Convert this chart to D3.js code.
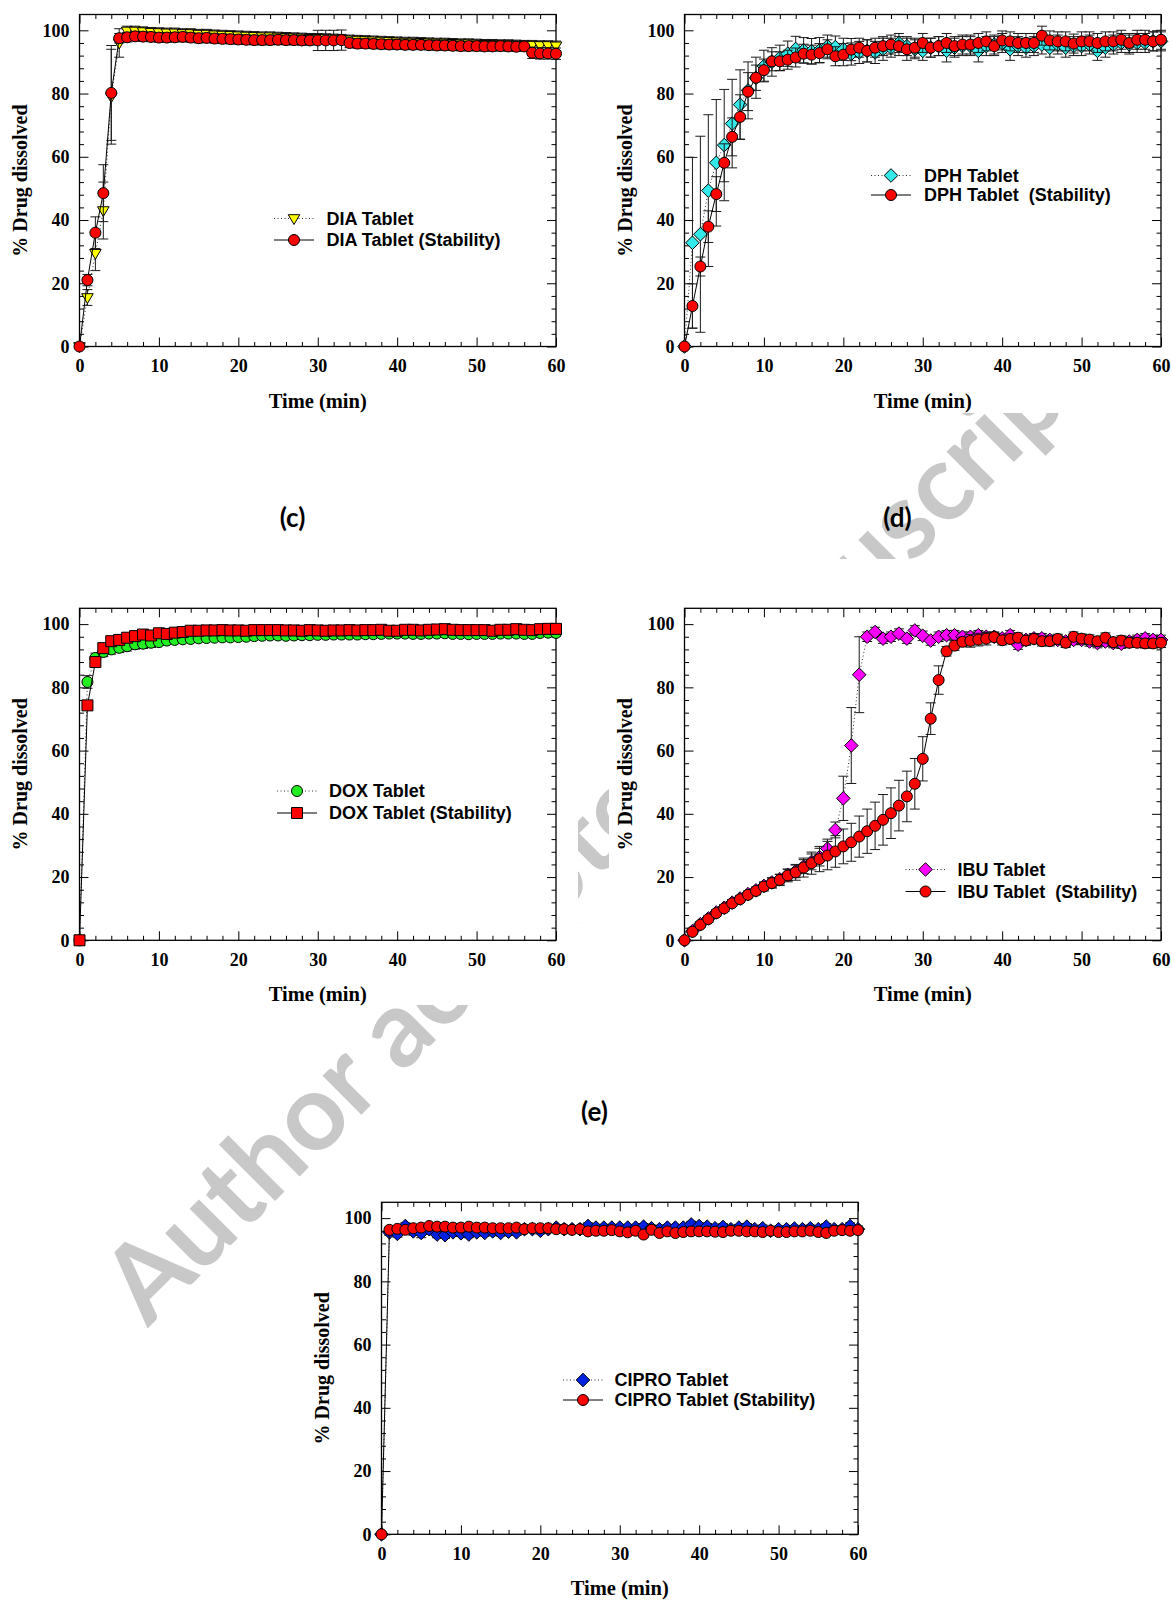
<!DOCTYPE html>
<html>
<head>
<meta charset="utf-8">
<script src="https://cdn.jsdelivr.net/npm/d3@7"></script>
<style>
  body { margin: 0; background: #fff; }
  svg text { white-space: pre; }
</style>
</head>
<body>
<div class="container"></div>
<script>
// time points (min)
const TIME = [0, 1, 2, 3, 4, 5, 6, 7, 8, 9,
  10, 11, 12, 13, 14, 15, 16, 17, 18, 19,
  20, 21, 22, 23, 24, 25, 26, 27, 28, 29,
  30, 31, 32, 33, 34, 35, 36, 37, 38, 39,
  40, 41, 42, 43, 44, 45, 46, 47, 48, 49,
  50, 51, 52, 53, 54, 55, 56, 57, 58, 59,
  60];

const X_TICKS = [0, 10, 20, 30, 40, 50, 60];
const Y_TICKS = [0, 20, 40, 60, 80, 100];

// (c) DIA
const DIA_TAB = [0, 15.5, 29.5, 43, 79, 96, 99.8, 99.8, 99.6, 99.4,
  99.3, 99.2, 99.2, 99.0, 99.0, 98.8, 98.8, 98.6, 98.5, 98.4,
  98.3, 98.2, 98.1, 98.0, 98.0, 97.9, 97.8, 97.7, 97.6, 97.5,
  97.5, 97.4, 97.3, 97.2, 97.0, 96.9, 96.8, 96.7, 96.6, 96.5,
  96.4, 96.3, 96.3, 96.2, 96.1, 96.0, 96.0, 95.9, 95.8, 95.8,
  95.7, 95.6, 95.6, 95.5, 95.5, 95.4, 95.3, 95.3, 95.2, 95.2,
  95.1];
const DIA_TAB_ERR = [0, 2.5, 5.5, 9, 15, 4.5, 1.5, 1.5, 1.5, 1.5,
  1.5, 1.5, 1.5, 1.5, 1.5, 1.5, 1.5, 1.5, 1.5, 1.5,
  1.5, 1.5, 1.5, 1.5, 1.5, 1.5, 1.5, 1.5, 1.5, 1.5,
  1.5, 1.5, 1.5, 1.5, 1.5, 1.5, 1.5, 1.5, 1.5, 1.5,
  1.5, 1.5, 1.5, 1.5, 1.5, 1.5, 1.5, 1.5, 1.5, 1.5,
  1.5, 1.5, 1.5, 1.5, 1.5, 1.5, 1.5, 1.5, 1.5, 1.5,
  1.5];
const DIA_STAB = [0, 21, 36, 48.5, 80.2, 97.5, 97.8, 98.1, 98.0, 97.9,
  97.7, 97.7, 97.8, 97.9, 97.7, 97.5, 97.6, 97.4, 97.3, 97.2,
  97.1, 97.0, 96.9, 96.9, 96.9, 97.0, 96.9, 96.9, 96.8, 96.8,
  96.8, 96.8, 96.8, 96.9, 96.0, 95.8, 95.8, 95.7, 95.6, 95.5,
  95.5, 95.4, 95.4, 95.4, 95.3, 95.2, 95.2, 95.1, 95.0, 95.0,
  95.0, 94.9, 94.9, 95.0, 94.9, 94.8, 94.9, 92.9, 92.7, 92.7,
  92.6];
const DIA_STAB_ERR = [0, 1.8, 5, 9, 15, 1.5, 1.5, 1.5, 1.5, 1.5,
  1.5, 1.5, 1.5, 1.5, 1.5, 1.5, 1.5, 1.5, 1.5, 1.5,
  1.5, 1.5, 1.5, 1.5, 1.5, 1.5, 1.5, 1.5, 1.5, 1.5,
  3.2, 3.2, 3.2, 3.2, 1.5, 1.5, 1.5, 1.5, 1.5, 1.5,
  1.5, 1.5, 1.5, 1.5, 1.5, 1.5, 1.5, 1.5, 1.5, 1.5,
  1.5, 1.5, 1.5, 1.5, 1.5, 1.5, 1.5, 1.8, 1.8, 1.8,
  1.8];

// (d) DPH
const DPH_TAB = [0, 32.8, 35.5, 49.3, 58.1, 63.7, 70.5, 76.5, 81.0, 85.0,
  88.7, 90.0, 91.3, 92.6, 94.1, 93.7, 93.4, 93.7, 95.0, 94.7,
  94.0, 92.5, 93.0, 93.5, 93.0, 94.0, 94.5, 96.0, 95.0, 94.0,
  93.5, 94.5, 95.0, 93.5, 94.5, 95.0, 95.0, 93.5, 95.0, 95.5,
  96.0, 94.0, 95.0, 94.5, 95.0, 95.5, 94.5, 95.5, 94.5, 95.0,
  95.0, 95.5, 93.5, 94.5, 95.5, 96.0, 95.5, 96.0, 96.0, 96.5,
  96.5];
const DPH_TAB_ERR = [0, 27, 31, 24, 20, 17.6, 14, 11, 9, 6.5,
  5, 4.5, 4, 4, 4, 4, 4, 4, 3.5, 3.5,
  3.5, 3.5, 3.5, 3.5, 3.5, 3.5, 3, 3, 3, 3,
  3, 3, 3, 3.5, 3, 3, 3, 3.5, 3, 3,
  3, 3.5, 3, 3, 3, 3, 3, 3, 3, 3,
  3, 3, 3, 3, 3, 3, 3, 3, 3, 3,
  3];
const DPH_STAB = [0, 12.8, 25.3, 37.9, 48.2, 58.1, 66.3, 72.6, 80.6, 85.0,
  87.4, 90.2, 90.2, 90.7, 91.4, 92.6, 92.3, 92.8, 94.0, 91.8,
  92.3, 93.9, 94.5, 93.5, 94.5, 95.0, 95.5, 95.0, 94.0, 94.5,
  96.0, 94.5, 95.0, 96.0, 95.0, 95.5, 95.5, 96.0, 96.5, 95.0,
  96.8, 96.5, 96.0, 96.0, 96.0, 98.3, 96.8, 96.5, 96.5, 95.8,
  96.5, 96.5, 96.0, 96.5, 96.5, 97.0, 96.0, 97.0, 97.0, 96.5,
  97.0];
const DPH_STAB_ERR = [0, 7, 3, 5, 5.5, 6, 6, 7, 6, 4,
  3.5, 3, 3, 3, 3, 3, 3, 3, 3, 3,
  3.5, 3.5, 3, 3.5, 3, 3, 3, 3, 3.5, 3,
  3, 3, 3, 3, 3, 3, 3, 3, 3, 3,
  3, 3, 3, 3, 3, 3, 3, 3, 3, 3,
  3, 3, 3, 3, 3, 3, 3, 3, 3, 3,
  3];

// (e) DOX
const DOX_TAB = [0, 81.7, 89.3, 91.2, 92.0, 92.5, 93.0, 93.6, 93.8, 94.1,
  94.3, 94.8, 95.0, 95.2, 95.3, 95.5, 95.6, 95.7, 95.8, 95.8,
  95.9, 96.0, 96.2, 96.3, 96.4, 96.4, 96.3, 96.4, 96.5, 96.5,
  96.6, 96.6, 96.7, 96.7, 96.7, 96.7, 96.8, 96.8, 96.9, 97.0,
  97.0, 97.0, 96.9, 96.9, 97.0, 97.0, 97.1, 96.9, 96.9, 96.8,
  96.9, 96.9, 96.9, 97.0, 97.0, 97.0, 96.9, 96.9, 97.2, 97.3,
  97.2];
const DOX_TAB_ERR = [0, 2, 1.5, 1.5, 1.5, 1.5, 1.5, 1.5, 1.5, 1.5,
  1, 1, 1, 1, 1, 1, 1, 1, 1, 1,
  1, 1, 1, 1, 1, 1, 1, 1, 1, 1,
  1, 1, 1, 1, 1, 1, 1, 1, 1, 1,
  1, 1, 1, 1, 1, 1, 1, 1, 1, 1,
  1, 1, 1, 1, 1, 1, 1, 1, 1, 1,
  1];
const DOX_STAB = [0, 74.3, 88.0, 92.4, 94.6, 95.0, 95.7, 96.2, 96.7, 96.4,
  97.1, 96.9, 97.3, 97.5, 97.9, 97.9, 98.0, 98.0, 98.1, 98.0,
  98.0, 97.9, 98.1, 98.1, 98.1, 98.1, 98.0, 98.0, 97.9, 98.1,
  98.0, 97.9, 98.0, 98.0, 98.1, 98.0, 98.1, 98.1, 98.2, 97.9,
  97.9, 98.2, 98.2, 98.0, 98.2, 98.3, 98.4, 98.2, 98.1, 98.1,
  98.1, 98.1, 97.9, 98.2, 98.2, 98.4, 98.2, 98.1, 98.4, 98.5,
  98.5];
const DOX_STAB_ERR = [0, 1, 1.2, 1.2, 1.2, 1.5, 1.2, 1.2, 1, 1,
  1, 1, 1, 1, 1, 1, 1, 1, 1, 1,
  1, 1, 1, 1, 1, 1, 1, 1, 1, 1,
  1, 1, 1, 1, 1, 1, 1, 1, 1, 1,
  1, 1, 1, 1, 1, 1, 1, 1, 1, 1,
  1, 1, 1, 1, 1, 1, 1, 1, 1, 1,
  1];

// IBU
const IBU_TAB = [0, 2.9, 5.1, 6.9, 8.8, 10.3, 11.9, 13.2, 14.6, 15.8,
  17.2, 18.3, 19.3, 20.7, 21.8, 23.3, 24.8, 26.3, 29.0, 34.9,
  44.9, 61.6, 84.0, 96.0, 97.5, 95.4, 96.0, 97.0, 95.4, 98.0,
  96.3, 94.8, 96.0, 96.5, 96.5, 96.0, 96.0, 96.5, 96.0, 96.0,
  95.5, 96.5, 93.5, 95.0, 95.5, 95.5, 95.0, 95.0, 94.5, 95.0,
  95.0, 94.5, 94.0, 94.5, 94.0, 93.8, 94.5, 95.0, 95.5, 95.0,
  95.0];
const IBU_TAB_ERR = [0, 0.8, 0.8, 0.8, 0.8, 1, 1, 1, 1, 1,
  1.2, 1.5, 1.5, 1.8, 2, 2.2, 2.5, 2.8, 3, 2.5,
  7, 12, 12, 1.5, 1.5, 1.5, 1.5, 1.5, 1.5, 1.5,
  1.5, 1.5, 1.5, 1.5, 1.5, 1.5, 1.5, 1.5, 1.5, 1.5,
  1.5, 1.5, 1.5, 1.5, 1.5, 1.5, 1.5, 1.5, 1.5, 1.5,
  1.5, 1.5, 1.5, 1.5, 1.5, 1.5, 1.5, 1.5, 1.5, 1.5,
  1.5];
const IBU_STAB = [0, 2.7, 4.9, 6.7, 8.6, 10.1, 11.7, 13.0, 14.4, 15.6,
  17.0, 18.1, 19.1, 20.5, 21.5, 23.0, 24.4, 25.7, 26.8, 28.1,
  29.7, 31.0, 32.8, 34.5, 36.2, 38.1, 40.2, 42.6, 45.5, 49.5,
  57.4, 70.1, 82.3, 91.4, 93.2, 94.4, 94.7, 95.1, 95.4, 95.9,
  94.9, 95.3, 95.7, 94.8, 95.3, 94.6, 94.6, 95.3, 94.1, 96.0,
  95.4, 95.1, 94.6, 95.7, 94.3, 94.8, 94.1, 94.1, 93.9, 93.9,
  94.1];
const IBU_STAB_ERR = [0, 0.8, 0.8, 1, 1, 1, 1, 1, 1, 1.2,
  1.4, 1.6, 1.8, 2, 2.5, 3, 3.5, 4, 4.5, 5,
  5.5, 6, 6.5, 7, 7.5, 8, 8, 8, 8, 8,
  7, 5, 4.5, 1.5, 1.5, 1.5, 2, 2, 2, 1.5,
  1.5, 1.5, 1.5, 1.5, 1.5, 1.5, 1.5, 1.5, 1.5, 1.5,
  1.5, 1.5, 1.5, 1.5, 1.5, 1.5, 1.5, 1.5, 1.5, 1.5,
  1.5];

// CIPRO
const CIPRO_TAB = [0, 95.5, 95.0, 97.5, 95.8, 95.3, 96.5, 94.8, 94.6, 95.5,
  95.2, 94.8, 95.5, 95.3, 95.8, 95.3, 95.7, 95.5, 96.5, 96.5,
  96.0, 96.5, 97.0, 96.5, 96.5, 96.5, 97.5, 97.0, 97.0, 97.0,
  97.0, 97.0, 97.0, 97.3, 96.8, 96.5, 97.0, 97.0, 97.0, 98.0,
  97.5, 97.3, 96.8, 97.2, 96.5, 97.0, 97.3, 96.5, 96.8, 96.0,
  96.5, 96.5, 96.7, 96.5, 96.8, 96.5, 97.3, 96.5, 96.5, 97.5,
  96.5];
const CIPRO_TAB_ERR = [0, 1, 1, 1, 1.2, 1.5, 1.2, 1, 1, 1,
  1, 1, 1, 1, 1, 1, 1, 1, 1, 1,
  1, 1, 1, 1, 1, 1, 1, 1, 1, 1,
  1, 1, 1, 1, 1, 1, 1, 1, 1, 1,
  1, 1, 1, 1, 1, 1, 1, 1, 1, 1,
  1, 1, 1, 1, 1, 1, 1, 1, 1, 1,
  1];
const CIPRO_STAB = [0, 96.3, 96.6, 96.3, 96.8, 97.0, 97.5, 97.3, 97.3, 97.0,
  97.0, 97.3, 97.0, 97.0, 96.8, 96.8, 96.8, 97.0, 96.5, 96.8,
  96.8, 96.8, 96.5, 96.5, 96.3, 96.5, 95.8, 96.0, 96.0, 96.2,
  95.8, 95.5, 96.0, 94.8, 96.3, 95.3, 95.8, 95.3, 95.6, 95.8,
  95.8, 95.8, 95.7, 95.6, 96.0, 96.0, 95.8, 95.8, 95.6, 96.0,
  95.6, 95.6, 95.8, 95.8, 96.0, 95.6, 95.3, 96.0, 96.2, 96.0,
  96.2];
const CIPRO_STAB_ERR = [0, 0.8, 0.8, 0.8, 0.8, 0.8, 0.8, 0.8, 0.8, 0.8,
  0.8, 0.8, 0.8, 0.8, 0.8, 0.8, 0.8, 0.8, 0.8, 0.8,
  0.8, 0.8, 0.8, 0.8, 0.8, 0.8, 0.8, 0.8, 0.8, 0.8,
  0.8, 0.8, 0.8, 0.8, 0.8, 0.8, 0.8, 0.8, 0.8, 0.8,
  0.8, 0.8, 0.8, 0.8, 0.8, 0.8, 0.8, 0.8, 0.8, 0.8,
  0.8, 0.8, 0.8, 0.8, 0.8, 0.8, 0.8, 0.8, 0.8, 0.8,
  0.8];

const WIDTH = 1172;
const HEIGHT = 1600;
const PLOT_W = 476.5;
const PLOT_H = 332;
const Y_MAX = 105;
const TICK_FONT = "'Liberation Serif', 'Times New Roman', serif";
const LEGEND_FONT = "'Liberation Sans', Arial, sans-serif";

var translate = function (x, y) {
  return "translate(" + x + "," + y + ")";
};

var markerPath = function (shape) {
  var p = d3.path();
  if (shape == "circle") {
    p.moveTo(5.5, 0);
    p.arc(0, 0, 5.5, 0, 2 * Math.PI);
  } else if (shape == "diamond") {
    p.moveTo(0, -6.8); p.lineTo(6.8, 0); p.lineTo(0, 6.8); p.lineTo(-6.8, 0);
  } else if (shape == "triangle") {
    p.moveTo(-5.8, -3.8); p.lineTo(5.8, -3.8); p.lineTo(0, 6);
  } else {
    p.rect(-5.5, -5.5, 11, 11);
  }
  p.closePath();
  return p.toString();
};

var makeSeries = function (label, values, errors, shape, fill, dotted) {
  return {
    label: label, shape: shape, fill: fill, dotted: dotted,
    points: TIME.map(function (t, i) { return { t: t, v: values[i], e: errors[i] }; })
  };
};

var PANELS = [
  { left: 79.5, top: 14.5, legend: { lx: 294, tx: 326.5, y1: 218.5, y2: 240 },
    series: [makeSeries("DIA Tablet", DIA_TAB, DIA_TAB_ERR, "triangle", "#ffff00", true),
             makeSeries("DIA Tablet (Stability)", DIA_STAB, DIA_STAB_ERR, "circle", "#ff0000", false)] },
  { left: 684.5, top: 14.5, legend: { lx: 891, tx: 924, y1: 175.5, y2: 195 },
    series: [makeSeries("DPH Tablet", DPH_TAB, DPH_TAB_ERR, "diamond", "#33e8e8", true),
             makeSeries("DPH Tablet  (Stability)", DPH_STAB, DPH_STAB_ERR, "circle", "#ff0000", false)] },
  { left: 79.5, top: 608.3, legend: { lx: 297, tx: 329, y1: 791, y2: 813 },
    series: [makeSeries("DOX Tablet", DOX_TAB, DOX_TAB_ERR, "circle", "#22ee22", true),
             makeSeries("DOX Tablet (Stability)", DOX_STAB, DOX_STAB_ERR, "square", "#ff0000", false)] },
  { left: 684.5, top: 608.3, legend: { lx: 925.5, tx: 957.5, y1: 869.5, y2: 891.5 },
    series: [makeSeries("IBU Tablet", IBU_TAB, IBU_TAB_ERR, "diamond", "#ff00ff", true),
             makeSeries("IBU Tablet  (Stability)", IBU_STAB, IBU_STAB_ERR, "circle", "#ff0000", false)] },
  { left: 381.5, top: 1202.3, legend: { lx: 583, tx: 614.5, y1: 1380, y2: 1400 },
    series: [makeSeries("CIPRO Tablet", CIPRO_TAB, CIPRO_TAB_ERR, "diamond", "#0022e0", true),
             makeSeries("CIPRO Tablet (Stability)", CIPRO_STAB, CIPRO_STAB_ERR, "circle", "#ff0000", false)] }
];

var PANEL_LABELS = [
  { text: "(c)", x: 292.5, y: 518 },
  { text: "(d)", x: 897.5, y: 518 },
  { text: "(e)", x: 594.5, y: 1112 }
];

// white areas of the pasted figures that hide the watermark
var MASKS = [
  [0, 0, 584, 420], [588, 0, 584, 413],
  [0, 559, 578, 446], [609, 559, 563, 446],
  [303, 1192, 570, 408]
];

var _svg;

var drawWatermark = function () {
  _svg.append("text")
    .attr("transform", translate(148, 1328) + " rotate(-45)")
    .attr("font-family", "Lato, 'Open Sans', sans-serif")
    .attr("font-weight", 700)
    .attr("font-size", 107)
    .attr("fill", "#c8c8c8")
    .text("Author accepted manuscript");

  _svg.selectAll("rect.mask").data(MASKS).enter().append("rect")
    .attr("class", "mask")
    .attr("x", function (d) { return d[0]; })
    .attr("y", function (d) { return d[1]; })
    .attr("width", function (d) { return d[2]; })
    .attr("height", function (d) { return d[3]; })
    .attr("fill", "#fff");
};

var drawPanel = function (p) {
  var x = d3.scaleLinear().domain([0, 60]).range([0, PLOT_W]);
  var y = d3.scaleLinear().domain([0, Y_MAX]).range([PLOT_H, 0]);
  var xMinor = d3.range(0, 61, 2).filter(function (d) { return d % 10 != 0; });
  var yMinor = d3.range(0, 101, 4).filter(function (d) { return d % 20 != 0; });

  var g = _svg.append("g").attr("transform", translate(p.left, p.top));

  var addAxis = function (axis, tr, labelled) {
    var a = g.append("g").attr("transform", tr).call(axis);
    a.select(".domain").remove();
    a.selectAll("line").attr("stroke", "#000").attr("stroke-width", 1);
    a.selectAll("text")
      .attr("font-family", TICK_FONT)
      .attr("font-weight", "bold")
      .attr("font-size", 18)
      .attr("fill", "#000");
    if (!labelled) a.selectAll("text").remove();
  };

  addAxis(d3.axisBottom(x).tickValues(X_TICKS).tickSize(-9).tickPadding(13), translate(0, PLOT_H), true);
  addAxis(d3.axisBottom(x).tickValues(xMinor).tickSize(-4.5), translate(0, PLOT_H), false);
  addAxis(d3.axisTop(x).tickValues(X_TICKS).tickSize(-9), translate(0, 0), false);
  addAxis(d3.axisTop(x).tickValues(xMinor).tickSize(-4.5), translate(0, 0), false);
  addAxis(d3.axisLeft(y).tickValues(Y_TICKS).tickSize(-9).tickPadding(10), translate(0, 0), true);
  addAxis(d3.axisLeft(y).tickValues(yMinor).tickSize(-4.5), translate(0, 0), false);
  addAxis(d3.axisRight(y).tickValues(Y_TICKS).tickSize(-9), translate(PLOT_W, 0), false);
  addAxis(d3.axisRight(y).tickValues(yMinor).tickSize(-4.5), translate(PLOT_W, 0), false);

  g.append("rect")
    .attr("width", PLOT_W).attr("height", PLOT_H)
    .attr("fill", "none").attr("stroke", "#000").attr("stroke-width", 1.3);

  var line = d3.line()
    .x(function (d) { return x(d.t); })
    .y(function (d) { return y(d.v); });

  p.series.forEach(function (s) {
    var sg = g.append("g");
    var eb = sg.selectAll("g.err")
      .data(s.points.filter(function (d) { return d.e > 0; }))
      .enter().append("g")
      .attr("stroke", "#1a1a1a").attr("stroke-width", 1);
    eb.append("line")
      .attr("x1", function (d) { return x(d.t); }).attr("x2", function (d) { return x(d.t); })
      .attr("y1", function (d) { return y(d.v - d.e); }).attr("y2", function (d) { return y(d.v + d.e); });
    eb.append("line")
      .attr("x1", function (d) { return x(d.t) - 5; }).attr("x2", function (d) { return x(d.t) + 5; })
      .attr("y1", function (d) { return y(d.v + d.e); }).attr("y2", function (d) { return y(d.v + d.e); });
    eb.append("line")
      .attr("x1", function (d) { return x(d.t) - 5; }).attr("x2", function (d) { return x(d.t) + 5; })
      .attr("y1", function (d) { return y(d.v - d.e); }).attr("y2", function (d) { return y(d.v - d.e); });

    sg.append("path")
      .datum(s.points)
      .attr("d", line)
      .attr("fill", "none")
      .attr("stroke", s.dotted ? "#333" : "#000")
      .attr("stroke-width", 1)
      .attr("stroke-dasharray", s.dotted ? "1,2.5" : null);

    sg.selectAll("path.mark")
      .data(s.points)
      .enter().append("path")
      .attr("class", "mark")
      .attr("transform", function (d) { return translate(x(d.t), y(d.v)); })
      .attr("d", markerPath(s.shape))
      .attr("fill", s.fill)
      .attr("stroke", "#000")
      .attr("stroke-width", 1);
  });

  // axis titles
  _svg.append("text")
    .attr("x", p.left + PLOT_W / 2).attr("y", p.top + PLOT_H + 54)
    .attr("dy", "0.35em")
    .attr("text-anchor", "middle")
    .attr("font-family", TICK_FONT).attr("font-weight", "bold").attr("font-size", 20.5)
    .text("Time (min)");

  _svg.append("text")
    .attr("transform", translate(p.left - 60, p.top + PLOT_H / 2) + " rotate(-90)")
    .attr("dy", "0.35em")
    .attr("text-anchor", "middle")
    .attr("font-family", TICK_FONT).attr("font-weight", "bold").attr("font-size", 20)
    .text("% Drug dissolved");

  // legend
  var lg = _svg.append("g");
  p.series.forEach(function (s, i) {
    var ly = i == 0 ? p.legend.y1 : p.legend.y2;
    lg.append("line")
      .attr("x1", p.legend.lx - 20).attr("x2", p.legend.lx + 20)
      .attr("y1", ly).attr("y2", ly)
      .attr("stroke", s.dotted ? "#333" : "#000")
      .attr("stroke-width", 1)
      .attr("stroke-dasharray", s.dotted ? "1,2.5" : null);
    lg.append("path")
      .attr("transform", translate(p.legend.lx, ly))
      .attr("d", markerPath(s.shape))
      .attr("fill", s.fill).attr("stroke", "#000").attr("stroke-width", 1);
    lg.append("text")
      .attr("x", p.legend.tx).attr("y", ly)
      .attr("dy", "0.36em")
      .attr("font-family", LEGEND_FONT).attr("font-weight", "bold").attr("font-size", 18)
      .text(s.label);
  });
};

var onload = function () {
  _svg = d3.select(".container").append("svg")
    .attr("width", WIDTH)
    .attr("height", HEIGHT);

  _svg.append("rect").attr("width", WIDTH).attr("height", HEIGHT).attr("fill", "#fff");

  drawWatermark();

  PANELS.forEach(drawPanel);

  _svg.selectAll("text.plabel").data(PANEL_LABELS).enter().append("text")
    .attr("class", "plabel")
    .attr("x", function (d) { return d.x; })
    .attr("y", function (d) { return d.y; })
    .attr("dy", "0.35em")
    .attr("text-anchor", "middle")
    .attr("font-family", "Lato, 'Open Sans', sans-serif")
    .attr("font-weight", 700)
    .attr("font-size", 26)
    .text(function (d) { return d.text; });
};

window.onload = onload;
</script>
</body>
</html>
